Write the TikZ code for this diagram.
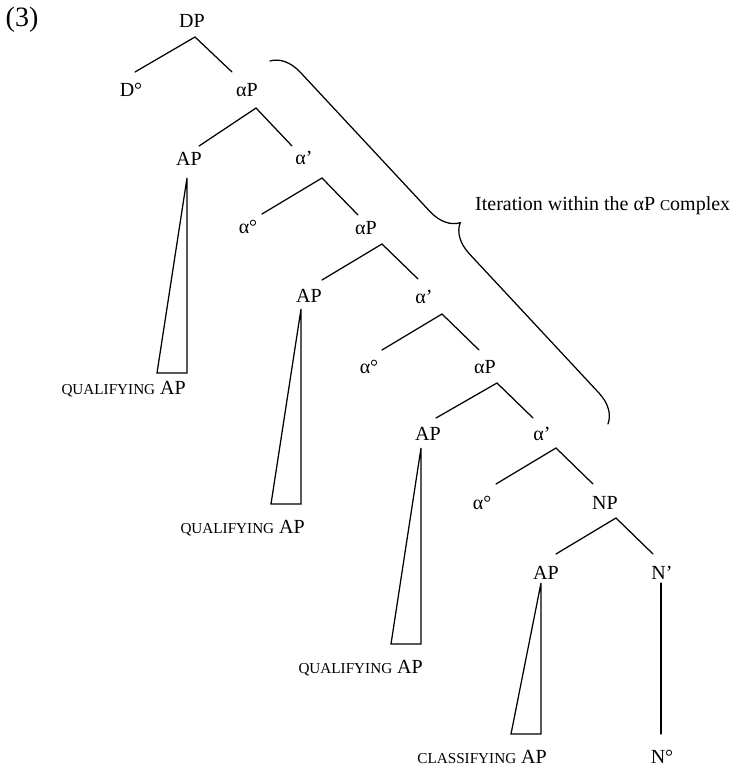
\documentclass[tikz,border=0pt]{standalone}
\usepackage{fontspec}
\setmainfont{Liberation Serif}
\usetikzlibrary{decorations.pathreplacing}
\newcommand{\smc}[1]{{\fontsize{15.2}{15}\selectfont #1}}
\begin{document}
\begin{tikzpicture}[x=1pt,y=-1pt,
  lab/.style={inner sep=0pt, font=\fontsize{20}{20}\selectfont},
  br/.style={line width=1.25pt, line cap=round, line join=miter}]
\useasboundingbox (0,0) rectangle (732,767);
% labels
\node[lab, font=\fontsize{28}{28}\selectfont] (ex) at (22,20) {(3)};
\node[lab] (DP) at (192,21) {DP};
\node[lab] (D0) at (131,90) {D°};
\node[lab] (aP1) at (247,90) {αP};
\node[lab] (AP1) at (189,159) {AP};
\node[lab] (ab1) at (304,158) {α’};
\node[lab] (a01) at (248,227) {α°};
\node[lab] (aP2) at (366,228) {αP};
\node[lab] (AP2) at (309,296) {AP};
\node[lab] (ab2) at (424,297) {α’};
\node[lab] (a02) at (369,367) {α°};
\node[lab] (aP3) at (485,367) {αP};
\node[lab] (AP3) at (428,434) {AP};
\node[lab] (ab3) at (542,434) {α’};
\node[lab] (a03) at (482,503) {α°};
\node[lab] (NP) at (605,503) {NP};
\node[lab] (AP4) at (546,573) {AP};
\node[lab] (Nb) at (662,573) {N’};
\node[lab] (N0) at (662,757) {N°};
\node[lab, anchor=base east] (Q1) at (186,394) {\smc{QUALIFYING} AP};
\node[lab, anchor=base east] (Q2) at (305,533) {\smc{QUALIFYING} AP};
\node[lab, anchor=base east] (Q3) at (423,673) {\smc{QUALIFYING} AP};
\node[lab, anchor=base east] (C4) at (547,763) {\smc{CLASSIFYING} AP};
\node[lab, anchor=base west] (it) at (475,211) {Iteration within the αP \smc{C}omplex};
% branch coordinates
\coordinate (DPb) at (195,37);  \coordinate (DPl) at (135,72);  \coordinate (DPr) at (232,72);
\coordinate (aP1b) at (256,108); \coordinate (aP1l) at (199,146); \coordinate (aP1r) at (292,146);
\coordinate (ab1b) at (322,178); \coordinate (ab1l) at (262,214); \coordinate (ab1r) at (358,215);
\coordinate (aP2b) at (382,244); \coordinate (aP2l) at (322,280); \coordinate (aP2r) at (418,279);
\coordinate (ab2b) at (442,314); \coordinate (ab2l) at (382,350); \coordinate (ab2r) at (479,350);
\coordinate (aP3b) at (497,383); \coordinate (aP3l) at (436,418); \coordinate (aP3r) at (533,418);
\coordinate (ab3b) at (556,448); \coordinate (ab3l) at (496,484); \coordinate (ab3r) at (593,484);
\coordinate (NPb) at (616,518);  \coordinate (NPl) at (556,554);  \coordinate (NPr) at (653,554);
\foreach \n in {DP,aP1,ab1,aP2,ab2,aP3,ab3,NP}
  \draw[br] (\n l) -- (\n b) -- (\n r);
% triangles
\coordinate (T1a) at (187,178); \coordinate (T1l) at (157,373); \coordinate (T1r) at (187,373);
\coordinate (T2a) at (301,309); \coordinate (T2l) at (271,504); \coordinate (T2r) at (301,504);
\coordinate (T3a) at (421,448); \coordinate (T3l) at (391,644); \coordinate (T3r) at (421,644);
\coordinate (T4a) at (541,583); \coordinate (T4l) at (511,734); \coordinate (T4r) at (541,734);
\foreach \t in {T1,T2,T3,T4}
  \draw[br] (\t a) -- (\t l) -- (\t r) -- cycle;
% N' to N°
\coordinate (Nt) at (661,583); \coordinate (Nu) at (661,734);
\draw[br] (Nt) -- (Nu);
% brace
\coordinate (bs) at (270,61); \coordinate (be) at (608,424);
\draw[br] decorate[decoration={brace,amplitude=29pt}] {(bs) -- (be)};
\end{tikzpicture}
\end{document}
